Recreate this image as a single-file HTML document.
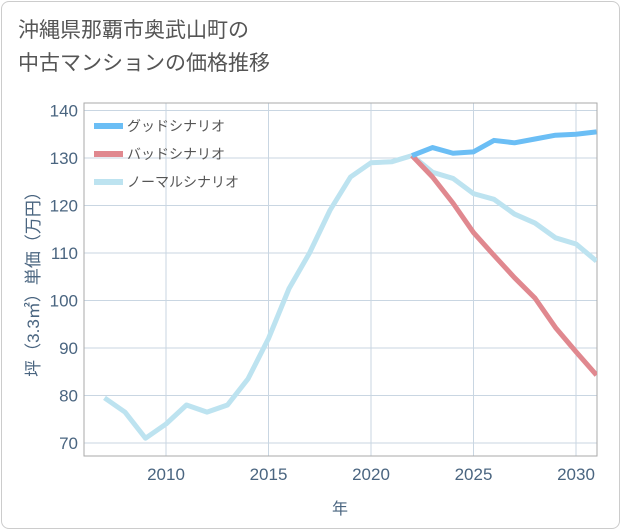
<!DOCTYPE html>
<html><head><meta charset="utf-8"><style>
body{margin:0;background:#fff;font-family:"Liberation Sans","Noto Sans CJK JP",sans-serif;}
.card{position:absolute;left:1px;top:1px;width:617px;height:526px;border:1px solid #ccc;border-radius:8px;background:#fff;}
.title{position:absolute;left:18px;top:14px;font-size:21px;line-height:33px;color:#555;}
</style></head><body>
<div class="card"></div>
<div class="title">沖縄県那覇市奥武山町の<br>中古マンションの価格推移</div>
<svg id="c" width="621" height="530" style="position:absolute;left:0;top:0"></svg>
<script>
const years=[2007,2008,2009,2010,2011,2012,2013,2014,2015,2016,2017,2018,2019,2020,2021,2022,2023,2024,2025,2026,2027,2028,2029,2030,2031];
const normal=[79.5,76.5,71,74,78,76.5,78,83.5,92,102.5,110,119,126,129,129.2,130.5,127,125.7,122.5,121.3,118.2,116.3,113.2,111.9,108.3];
const goodYears=[2022,2023,2024,2025,2026,2027,2028,2029,2030,2031];
const good=[130.5,132.2,131,131.3,133.7,133.2,134,134.8,135,135.5];
const bad=[130.5,126,120.5,114.3,109.5,104.8,100.5,94.3,89.2,84.3];
const yTicks=[70,80,90,100,110,120,130,140];
const xTicks=[2010,2015,2020,2025,2030];
const L=84,R=597,T=103,B=456;
const X=v=>166+(v-2010)*20.5;
const Y=v=>443-(v-70)*4.75;
const s=document.getElementById('c');const NS='http://www.w3.org/2000/svg';
function el(t,a,p){const e=document.createElementNS(NS,t);for(const k in a)e.setAttribute(k,a[k]);(p||s).appendChild(e);return e;}
const cp=el('clipPath',{id:'cl'});el('rect',{x:L,y:T,width:R-L,height:B-T},cp);
yTicks.forEach(v=>{const g=el('line',{x1:L,x2:R,y1:Y(v),y2:Y(v),stroke:'#c9d6e2','stroke-width':1});
const t=el('text',{x:78,y:Y(v)+6,'text-anchor':'end','font-size':17,fill:'#4a6580'});t.textContent=v;});
xTicks.forEach(v=>{const g=el('line',{x1:X(v),x2:X(v),y1:T,y2:B,stroke:'#c9d6e2','stroke-width':1});
const t=el('text',{x:X(v),y:480,'text-anchor':'middle','font-size':17,fill:'#4a6580'});t.textContent=v;});
const fr=el('rect',{x:L,y:T,width:R-L,height:B-T,fill:'none',stroke:'#aaa'});
function line(xs,vs,c,n){const p=el('polyline',{points:xs.map((x,i)=>X(x)+','+Y(vs[i])).join(' '),fill:'none',stroke:c,'stroke-width':5,'stroke-linejoin':'round','clip-path':'url(#cl)'});}
line(years,normal,'#bde3f0','normal-series');
line(goodYears,bad,'#e0888f','bad-series');
line(goodYears,good,'#6bbef5','good-series');
[['グッドシナリオ','#6bbef5',126],['バッドシナリオ','#e0888f',154],['ノーマルシナリオ','#bde3f0',182]].forEach(([n,c,y])=>{
const r=el('rect',{x:94,y:y-3,width:29,height:6,fill:c});
const t=el('text',{x:127,y:y+5,'font-size':14,fill:'#555'});t.textContent=n;});
const xt=el('text',{x:340,y:514,'text-anchor':'middle','font-size':16,fill:'#4a6580'});xt.textContent='年';
const yt=el('text',{x:0,y:0,'text-anchor':'middle','font-size':17,fill:'#4a6580',transform:'translate(39,280) rotate(-90)'});yt.textContent='坪（3.3㎡）単価（万円）';
</script>
</body></html>
